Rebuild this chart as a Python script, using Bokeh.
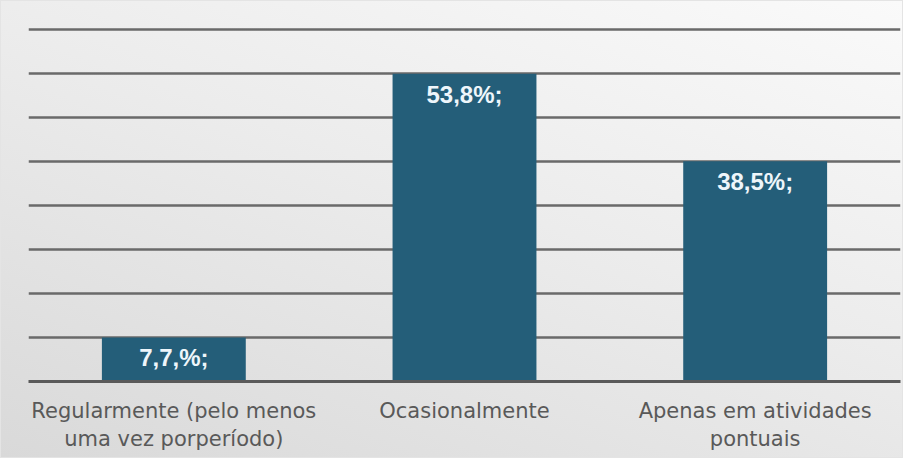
from bokeh.plotting import figure
from bokeh.models import ColumnDataSource, FixedTicker, Range1d, FactorRange
from bokeh.core.properties import value
from bokeh.embed import file_html
from bokeh.resources import INLINE

categories = ["Regularmente (pelo menos\numa vez porperíodo)", "Ocasionalmente", "Apenas em atividades\npontuais"]
percentages = [7.7, 53.8, 38.5]
bar_labels = ["7,7,%;", "53,8%;", "38,5%;"]
respondents = 13
grid_steps = 8

step = 100.0 / respondents
ticks = [i * step for i in range(grid_steps + 1)]

src = ColumnDataSource(dict(cat=categories, val=percentages, lab=bar_labels))

p = figure(width=903, height=458, output_backend="svg", toolbar_location=None,
           x_range=FactorRange(*categories, range_padding=0),
           y_range=Range1d(0, ticks[-1] * (1 + 2 / 352)),
           min_border_left=27, min_border_right=4, min_border_top=26, min_border_bottom=78)
p.background_fill_color = None
p.border_fill_color = None
p.outline_line_color = None
p.styles = {"background": "linear-gradient(200deg, #fafafa 0%, #ececec 45%, #d9d9d9 100%)",
            "border": "1px solid #e4e4e4"}

p.vbar(x="cat", top="val", width=0.495, source=src, fill_color="#245e79",
       fill_alpha=1.0, line_color=None)

p.text(x="cat", y="val", text="lab", source=src, text_align="center", text_baseline="top",
       y_offset=7, text_color="#eef6fb", text_font=value("Liberation Sans"),
       text_font_style="bold", text_font_size="24px")

p.yaxis.visible = False
p.ygrid.ticker = FixedTicker(ticks=ticks)
p.ygrid.grid_line_color = "#6a6a6a"
p.ygrid.grid_line_width = 2.5
p.xgrid.visible = False

ax = p.xaxis[0]
ax.axis_line_color = "#5a5a5a"
ax.axis_line_width = 3
ax.major_tick_line_color = None
ax.minor_tick_line_color = None
ax.major_label_text_font = "DejaVu Sans"
ax.major_label_text_font_size = "21px"
ax.major_label_text_color = "#595959"
ax.major_label_standoff = 11

open("out.html", "w").write(file_html(p, INLINE))
